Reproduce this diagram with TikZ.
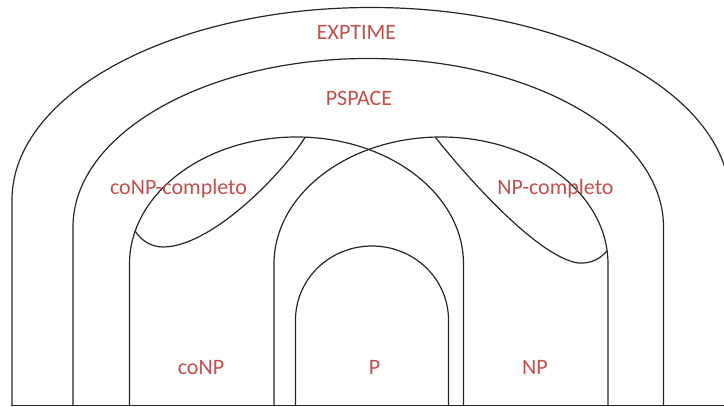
\documentclass[tikz,border=0pt]{standalone}
\usepackage{fontspec}
\setmainfont{Carlito}
\definecolor{rojoclase}{HTML}{C0504D}
\begin{document}
\begin{tikzpicture}[x=1pt,y=1pt,
  borde/.style={draw=black!85, line width=1.2pt},
  clase/.style={text=rojoclase, anchor=base, inner sep=0pt, font=\fontsize{22}{26}\selectfont}]
\useasboundingbox (0,0) rectangle (724,407);
\draw [borde] (11,1.5) -- (724,1.5);
\draw [borde] (12,1.5) -- (12,207) arc [start angle=180, end angle=0, x radius=359, y radius=192.5] -- (730,1.5);
\draw [borde] (73,1.5) -- (73,180) arc [start angle=180, end angle=0, x radius=295.25, y radius=168.5] -- (663.5,1.5);
\draw [borde] (129.5,1.5) -- (129.5,143) arc [start angle=180, end angle=0, x radius=167, y radius=127] -- (463.5,1.5);
\draw [borde] (274,1.5) -- (274,143) arc [start angle=180, end angle=0, x radius=167, y radius=127] -- (608,1.5);
\draw [borde] (295.5,1.5) -- (295.5,87) arc [start angle=180, end angle=0, x radius=76.5, y radius=74] -- (448.5,1.5);
\draw [borde] (305.2,269.8) .. controls (280,230) and (210,160) .. (163,160) .. controls (150,160) and (140,168) .. (135.2,175.9);
\draw [borde] (435.2,269.9) .. controls (475,220) and (540,150) .. (578,144) .. controls (592,143) and (601,149) .. (607.1,156.3);
\node [clase] (exptime) at (356.5,367) {EXPTIME};
\node [clase] (pspace) at (359,301.3) {PSPACE};
\node [clase] (conpc) at (178.5,212) {coNP-completo};
\node [clase] (npc) at (555.5,212) {NP-completo};
\node [clase] (conp) at (201,32.7) {coNP};
\node [clase] (p) at (374.5,32.7) {P};
\node [clase] (np) at (535,32.7) {NP};
\end{tikzpicture}
\end{document}
